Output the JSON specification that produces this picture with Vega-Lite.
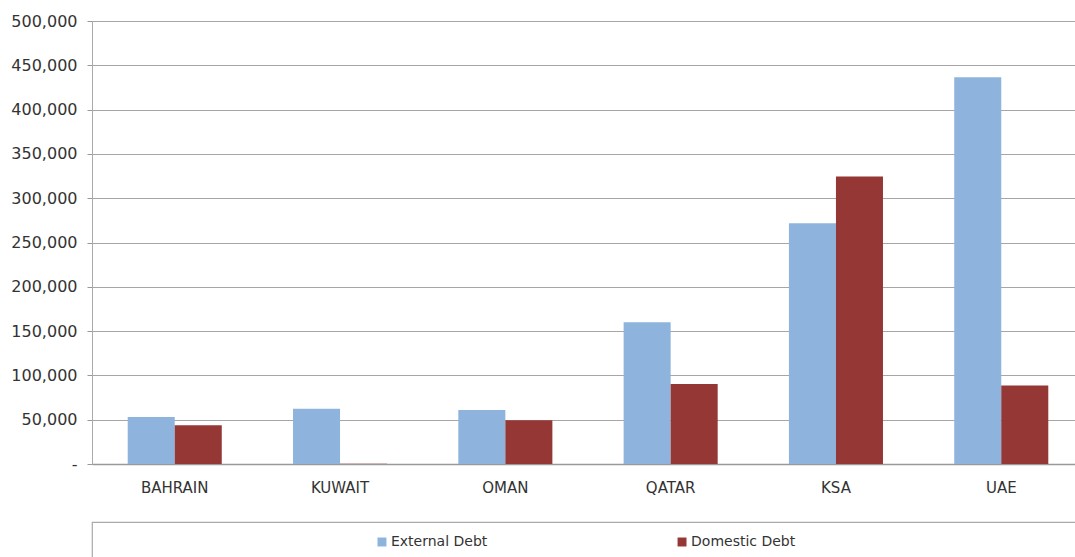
{
  "$schema": "https://vega.github.io/schema/vega-lite/v6.json",
  "padding": {"left": 10, "top": 13, "right": 0, "bottom": 0},
  "background": "white",
  "config": {
    "view": {"stroke": null},
    "font": "DejaVu Sans",
    "axis": {"labelColor": "#333333", "labelFont": "DejaVu Sans"}
  },
  "spacing": 26,
  "vconcat": [
    {
      "width": 992,
      "height": 443,
      "data": {
        "values": [
          {"country": "BAHRAIN", "series": "External Debt", "value": 53000},
          {"country": "BAHRAIN", "series": "Domestic Debt", "value": 43600},
          {"country": "KUWAIT", "series": "External Debt", "value": 62300},
          {"country": "KUWAIT", "series": "Domestic Debt", "value": 300},
          {"country": "OMAN", "series": "External Debt", "value": 61000},
          {"country": "OMAN", "series": "Domestic Debt", "value": 49300},
          {"country": "QATAR", "series": "External Debt", "value": 160000},
          {"country": "QATAR", "series": "Domestic Debt", "value": 90200},
          {"country": "KSA", "series": "External Debt", "value": 271800},
          {"country": "KSA", "series": "Domestic Debt", "value": 324500},
          {"country": "UAE", "series": "External Debt", "value": 436500},
          {"country": "UAE", "series": "Domestic Debt", "value": 88700}
        ]
      },
      "mark": {"type": "bar"},
      "encoding": {
        "x": {
          "field": "country",
          "type": "nominal",
          "sort": ["BAHRAIN", "KUWAIT", "OMAN", "QATAR", "KSA", "UAE"],
          "scale": {"paddingInner": 0.431, "paddingOuter": 0.216},
          "axis": {
            "title": null,
            "labelAngle": 0,
            "labelFontSize": 15,
            "labelPadding": 16,
            "ticks": false,
            "domainColor": "#999999",
            "domainWidth": 1.5
          }
        },
        "xOffset": {
          "field": "series",
          "type": "nominal",
          "sort": ["External Debt", "Domestic Debt"],
          "scale": {"paddingInner": 0, "paddingOuter": 0}
        },
        "y": {
          "field": "value",
          "type": "quantitative",
          "scale": {"domain": [0, 500000], "nice": false},
          "axis": {
            "title": null,
            "values": [0, 50000, 100000, 150000, 200000, 250000, 300000, 350000, 400000, 450000, 500000],
            "labelExpr": "datum.value == 0 ? '-' : format(datum.value, ',')",
            "labelFontSize": 16,
            "labelPadding": 10,
            "tickSize": 5,
            "tickColor": "#999999",
            "domain": true,
            "domainColor": "#aaaaaa",
            "gridColor": "#a6a6a6",
            "gridWidth": 1.2
          }
        },
        "color": {
          "field": "series",
          "type": "nominal",
          "sort": ["External Debt", "Domestic Debt"],
          "scale": {"domain": ["External Debt", "Domestic Debt"], "range": ["#8EB4DE", "#953735"]},
          "legend": null
        }
      }
    },
    {
      "width": 992,
      "height": 60,
      "view": {"stroke": "#aaaaaa", "strokeWidth": 1.2},
      "data": {
        "values": [
          {"series": "External Debt"},
          {"series": "Domestic Debt"}
        ]
      },
      "layer": [
        {
          "mark": {"type": "point", "shape": "square", "filled": true, "size": 80, "opacity": 1, "xOffset": -56, "yOffset": -10},
          "encoding": {
            "x": {"field": "series", "type": "nominal", "sort": ["External Debt", "Domestic Debt"], "scale": {"type": "band", "paddingInner": 0, "paddingOuter": 0.653}, "axis": null},
            "color": {
              "field": "series",
              "type": "nominal",
              "scale": {"domain": ["External Debt", "Domestic Debt"], "range": ["#8EB4DE", "#953735"]},
              "legend": null
            }
          }
        },
        {
          "mark": {"type": "text", "align": "left", "baseline": "middle", "fontSize": 14, "color": "#333333", "xOffset": -47, "yOffset": -10},
          "encoding": {
            "x": {"field": "series", "type": "nominal", "sort": ["External Debt", "Domestic Debt"], "scale": {"type": "band", "paddingInner": 0, "paddingOuter": 0.653}, "axis": null},
            "text": {"field": "series"}
          }
        }
      ]
    }
  ]
}
